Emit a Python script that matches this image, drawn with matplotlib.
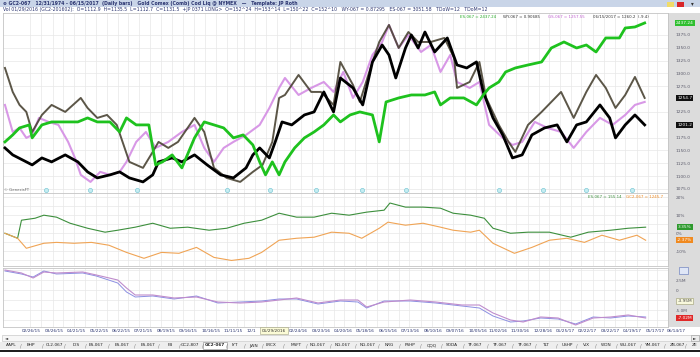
import matplotlib
matplotlib.use("Agg")
import matplotlib.pyplot as plt
from matplotlib.patches import Rectangle
from matplotlib.lines import Line2D

W, H = 700, 357

# ---- main panel: price scale, x = bar number ----
bars_x = [0, 8, 15, 22, 28, 38, 48, 62, 78, 85, 95, 105, 115, 128, 142, 152, 158, 168, 178, 195,
          205, 215, 228, 242, 255, 265, 275, 282, 288, 302, 315, 325, 338, 345, 358, 365, 378, 385, 395, 405,
          415, 425, 438, 452, 462, 465, 478, 488, 495, 508, 518, 525, 538, 552, 572, 585, 598, 608, 618, 628,
          638, 648, 658]
bars_close = [1310.5, 1263.8, 1238.5, 1224.9, 1185.9, 1219.0, 1238.5, 1224.9, 1252.1, 1232.6,
              1213.2, 1219.0, 1199.6, 1127.6, 1115.9, 1147.0, 1166.5, 1154.8, 1166.5, 1213.2,
              1185.9, 1115.9, 1096.4, 1088.6, 1108.1, 1121.7, 1166.5, 1252.1, 1257.9, 1296.9,
              1263.8, 1263.8, 1238.5, 1322.2, 1277.4, 1244.3, 1322.2, 1361.1, 1394.2, 1349.4,
              1380.5, 1361.1, 1361.1, 1368.9, 1329.9, 1271.6, 1283.2, 1322.2, 1252.1, 1199.6,
              1166.5, 1147.0, 1199.6, 1224.9, 1263.8, 1213.2, 1263.8, 1296.9, 1271.6, 1232.6,
              1257.9, 1293.0, 1252.1]

black_x = [0, 8, 22, 28, 38, 48, 62, 75, 85, 95, 108, 118, 128, 142, 152, 158, 172, 182, 195, 208,
           222, 235, 248, 255, 262, 272, 278, 285, 295, 308, 318, 328, 338, 345, 358, 368, 378, 388, 395, 402,
           412, 418, 425, 432, 442, 455, 465, 475, 485, 492, 502, 512, 522, 532, 542, 555, 568, 578, 588, 598,
           612, 622, 628, 638, 648, 658]
black_val = [1154.8, 1141.2, 1127.6, 1121.7, 1135.3, 1127.6, 1141.2, 1127.6, 1108.1, 1096.4,
             1102.3, 1108.1, 1096.4, 1088.6, 1102.3, 1127.6, 1135.3, 1127.6, 1141.2, 1121.7,
             1102.3, 1096.4, 1115.9, 1141.2, 1154.8, 1135.3, 1166.5, 1205.4, 1199.6, 1219.0,
             1224.9, 1263.8, 1224.9, 1291.0, 1271.6, 1238.5, 1322.2, 1355.2, 1335.8, 1291.0,
             1349.4, 1374.7, 1349.4, 1380.5, 1341.6, 1368.9, 1316.3, 1310.5, 1322.2, 1263.8,
             1213.2, 1180.1, 1135.3, 1141.2, 1180.1, 1193.7, 1199.6, 1166.5, 1199.6, 1205.4,
             1238.5, 1213.2, 1174.3, 1199.6, 1219.0, 1199.6]

pink_x = [0, 8, 15, 22, 28, 35, 45, 55, 65, 72, 78, 88, 98, 108, 118, 125, 135, 145, 155, 168,
          182, 195, 205, 215, 225, 235, 248, 262, 272, 282, 288, 302, 315, 328, 338, 348, 358, 368, 378, 388,
          395, 405, 415, 428, 438, 448, 458, 465, 478, 488, 498, 512, 522, 532, 545, 558, 572, 585, 598, 612,
          625, 638, 648, 658]
pink_val = [1238.5, 1185.9, 1193.7, 1174.3, 1180.1, 1213.2, 1205.4, 1199.6, 1166.5, 1135.3,
            1102.3, 1088.6, 1108.1, 1102.3, 1108.1, 1127.6, 1166.5, 1185.9, 1154.8, 1166.5,
            1185.9, 1199.6, 1154.8, 1127.6, 1154.8, 1166.5, 1180.1, 1199.6, 1232.6, 1271.6,
            1291.0, 1257.9, 1271.6, 1283.2, 1263.8, 1302.7, 1252.1, 1283.2, 1335.8, 1361.1,
            1394.2, 1349.4, 1374.7, 1341.6, 1355.2, 1302.7, 1335.8, 1283.2, 1271.6, 1283.2,
            1199.6, 1174.3, 1160.6, 1166.5, 1205.4, 1193.7, 1185.9, 1154.8, 1185.9, 1213.2,
            1199.6, 1219.0, 1238.5, 1244.3]

green_x = [0, 8, 15, 25, 28, 38, 48, 62, 75, 85, 95, 108, 118, 125, 135, 148, 155, 162, 172, 182,
           195, 205, 215, 225, 235, 245, 255, 262, 268, 275, 282, 288, 298, 308, 318, 328, 338, 345, 355, 365,
           378, 385, 392, 405, 418, 432, 442, 448, 458, 472, 485, 492, 498, 508, 515, 525, 538, 552, 562, 575,
           588, 598, 608, 618, 632, 638, 648, 658]
green_val = [1166.5, 1180.1, 1193.7, 1199.6, 1174.3, 1199.6, 1205.4, 1205.4, 1205.4, 1213.2,
             1205.4, 1205.4, 1185.9, 1213.2, 1199.6, 1199.6, 1121.7, 1127.6, 1141.2, 1115.9,
             1174.3, 1205.4, 1199.6, 1193.7, 1174.3, 1180.1, 1160.6, 1127.6, 1102.3, 1127.6,
             1102.3, 1127.6, 1154.8, 1174.3, 1185.9, 1199.6, 1219.0, 1205.4, 1219.0, 1224.9,
             1219.0, 1166.5, 1244.3, 1252.1, 1257.9, 1257.9, 1263.8, 1238.5, 1252.1, 1252.1,
             1238.5, 1257.9, 1271.6, 1283.2, 1302.7, 1310.5, 1316.3, 1322.2, 1349.4, 1361.1,
             1349.4, 1355.2, 1341.6, 1368.9, 1368.9, 1388.3, 1390.3, 1398.1]

event_x = [42, 87, 136, 228, 273, 320, 367, 412, 508, 553, 598, 645]
price_ticks = [1075, 1100, 1125, 1150, 1175, 1225, 1275, 1300, 1325, 1350, 1375]

# ---- relative performance panel (%) ----
rs_green_x = [0, 13, 17, 31, 40, 53, 67, 85, 103, 116, 134, 152, 170, 188, 210, 228, 246, 264, 282, 300,
              318, 336, 354, 372, 390, 396, 412, 430, 448, 461, 479, 493, 502, 520, 538, 560, 582, 600, 623, 641,
              659]
rs_green = [0, -2.8, 7.3, 8.4, 10.1, 9.0, 5.6, 2.8, 0.6, 1.7, 3.4, 5.6, 2.8, 3.4, 1.7, 2.8, 5.6, 7.3,
            11.2, 9.0, 9.0, 11.2, 10.1, 11.8, 12.9, 16.9, 14.6, 14.6, 14.0, 11.2, 10.1, 8.4, 2.8, 0,
            0.6, 0.6, -2.2, 0.6, 1.7, 2.8, 3.4]
rs_orange_x = [0, 13, 22, 40, 53, 71, 89, 107, 125, 143, 161, 179, 197, 215, 233, 251, 264, 282, 300, 318,
               336, 354, 367, 385, 394, 412, 430, 448, 461, 479, 488, 502, 524, 542, 560, 578, 596, 614, 632, 650,
               659]
rs_orange = [0, -2.8, -8.4, -5.6, -5.1, -5.6, -5.1, -6.7, -10.7, -14.0, -10.7, -11.2, -7.9, -13.5,
             -15.2, -14.0, -10.7, -3.9, -2.8, -2.2, 0.6, 0, -2.8, 2.8, 6.2, 4.5, 5.6, 3.4, 1.7, 0.6,
             1.7, -5.6, -11.2, -7.9, -3.9, -2.8, -5.1, -1.1, -3.9, -1.1, -3.9]

# ---- lower panel (millions) ----
osc_x = [0, 17, 29, 40, 53, 80, 94, 116, 125, 134, 152, 174, 197, 219, 242, 264, 282, 300, 322, 345,
         363, 372, 390, 417, 443, 470, 488, 502, 520, 533, 551, 569, 587, 605, 623, 641, 659]
osc_purple = [5.0, 4.25, 3.0, 4.5, 4.25, 4.5, 3.75, 2.5, 0.5, -1.25, -1.25, -2.0, -1.75, -3.0, -3.25,
              -3.0, -2.5, -2.0, -3.25, -2.5, -2.5, -4.25, -3.0, -2.5, -3.0, -3.75, -3.75, -5.75, -7.5,
              -8.0, -6.75, -7.0, -8.75, -7.0, -6.75, -6.25, -7.0]
osc_blue = [4.75, 4.0, 3.25, 4.75, 4.0, 4.25, 3.5, 1.75, -0.5, -1.75, -1.5, -2.25, -1.5, -3.25, -3.0,
            -2.75, -2.25, -2.25, -3.5, -2.75, -3.0, -4.5, -2.75, -2.75, -3.25, -4.0, -4.5, -6.5, -8.0,
            -7.75, -7.0, -7.25, -8.5, -6.75, -7.0, -6.5, -6.75]

# ---- date row and symbol tabs ----
date_pos = [26, 49, 71, 94, 116, 138, 161, 183, 206, 228, 246, 269, 293, 316, 338, 360, 383, 405, 428, 450,
            473, 493, 515, 538, 560, 582, 605, 627, 650, 671]
date_labels = ["02/26/15", "03/26/15", "04/21/15", "05/22/15", "06/22/15", "07/21/15", "08/19/15",
               "09/16/15", "10/16/15", "11/11/15", "12/1", "01/29/2016", "02/24/16", "03/23/16",
               "04/20/16", "05/18/16", "06/15/16", "07/13/16", "08/10/16", "09/07/16", "10/05/16",
               "11/02/16", "11/30/16", "12/28/16", "01/25/17", "02/22/17", "03/22/17", "04/19/17",
               "05/17/17", "06/14/17"]
tab_labels = ["AAPL", "BHP", "CL2-067", "DIS", "ES-067", "ES-067", "ES-067", "FB", "GC2-807", "GC2-067",
              "IYT", "JWN", "LRCX", "MSFT", "NG-067", "NG-067", "NG-067", "NRG", "PSHP", "QQQ", "SODA",
              "TF-067", "TF-067", "TF-067", "TLT", "USHP", "VIX", "WDN", "WU-067", "YM-067", "ZB-067", "ZE"]
tab_centers = [11, 31, 54, 76, 96, 122, 148, 170, 190, 215, 235, 254, 271, 296, 318, 343, 368, 389, 410,
               432, 452, 475, 500, 525, 546, 567, 586, 606, 628, 653, 677, 695]
ACTIVE_TAB = 9

NAVY = "#2a3470"
FS = 3.1


def fx(px):
    return px / W


def fy(py):
    return 1 - py / H


def px_box(x0, y0, x1, y1):
    return [x0 / W, 1 - y1 / H, (x1 - x0) / W, (y1 - y0) / H]


def style_panel(ax, yticks, ylabels, ylim, yminor=None):
    ax.set_xlim(-2, 663)
    ax.set_ylim(*ylim)
    ax.yaxis.tick_right()
    ax.set_yticks(yticks)
    ax.set_yticklabels(ylabels)
    if yminor is not None:
        ax.set_yticks(yminor, minor=True)
    ax.set_xticks(date_pos)
    ax.set_xticks([p + 11 for p in date_pos], minor=True)
    ax.set_xticklabels([])
    ax.tick_params(axis="both", which="both", length=0)
    ax.tick_params(axis="y", pad=5.5, labelsize=FS, colors="#5a5a6a")
    ax.grid(True, which="both", color="#e8e8e8", lw=0.5)
    ax.set_axisbelow(True)
    for s in ax.spines.values():
        s.set_color("#c4c4c4")
        s.set_linewidth(0.6)


def value_box(ax, y, text, fc, tc="white", ec="none"):
    ax.text(1.025, y, text, transform=ax.get_yaxis_transform(), ha="center", va="center",
            fontsize=FS, color=tc, clip_on=False, zorder=20,
            bbox=dict(boxstyle="square,pad=0.25", fc=fc, ec=ec, lw=0.4))


fig = plt.figure(figsize=(W / 100, H / 100), dpi=100)
fig.patch.set_facecolor("white")

# right label column and title bar
fig.patches.append(Rectangle((fx(668), fy(327)), fx(32), 314 / H, transform=fig.transFigure,
                             fc="#dcdcdc", ec="none", zorder=-5))
fig.patches.append(Rectangle((0, fy(7)), 1, 7 / H, transform=fig.transFigure,
                             fc="#c9d5e8", ec="none", zorder=-5))
fig.patches.append(Rectangle((fx(667), fy(6.5)), fx(7), 5 / H, transform=fig.transFigure,
                             fc="#f0dc6a", ec="none"))
fig.patches.append(Rectangle((fx(677), fy(6.5)), fx(7), 5 / H, transform=fig.transFigure,
                             fc="#d8262a", ec="none"))
fig.text(fx(692), fy(3.8), "▾", fontsize=4, color="#333333", ha="center", va="center")
fig.text(fx(3), fy(3.6),
         "⊕ GC2-067   12/31/1974 - 06/15/2017  (Daily bars)   Gold Comex (Comb) Cod Liq @ NYMEX   \u2014   "
         "Template: JP Roth", fontsize=3.3, color=NAVY, va="center", fontweight="bold")
fig.text(fx(3), fy(10),
         "Vol 01/29/2016 (GC2-201602):  O=1112.9  H=1135.5  L=1112.7  C=1131.5  +JP 0371 LONG>  "
         "O=152^24  H=153^14  L=150^22  C=152^10   WY-067 = 0.87295   ES-067 = 3051.58   TDoW=12   TDoM=12",
         fontsize=3.3, color=NAVY, va="center")

# ---- main panel ----
ax = fig.add_axes(px_box(3, 13, 668, 193))
style_panel(ax, price_ticks, [f"{t:.1f}" for t in price_ticks], (1067, 1417.5))
ax.plot(pink_x, pink_val, color="#d48de4", lw=1.5, alpha=0.9, zorder=3)
ax.plot(bars_x, bars_close, color="#4a4434", lw=1.4, alpha=0.9, zorder=4)
ax.plot(black_x, black_val, color="black", lw=2.0, zorder=5)
ax.plot(green_x, green_val, color="#1ec21e", lw=2.0, zorder=6)
ax.scatter(event_x, [1073] * len(event_x), s=9, marker="o", fc="#c6edf2", ec="#7fcad6", lw=0.5, zorder=7,
           clip_on=False)
value_box(ax, green_val[-1], "2437.24", "#2fbf2f")
value_box(ax, bars_close[-1], "1254.7", "#111111")
value_box(ax, black_val[-1], "1201.2", "#111111")
fig.text(fx(460), fy(17), "ES-067 = 2437.24", fontsize=2.9, color="#22aa22", va="center")
fig.text(fx(503), fy(17), "WY-067 = 0.90685", fontsize=2.9, color="#333333", va="center")
fig.text(fx(548), fy(17), "GS-067 = 1257.55", fontsize=2.9, color="#c060d0", va="center")
fig.text(fx(593), fy(17), "06/15/2017 = 1260.2  (-9.4)", fontsize=2.9, color="#333333", va="center")
fig.text(fx(4), fy(190), "© GenesisFT", fontsize=2.8, color="#666666", va="center")

# ---- relative performance panel ----
ax2 = fig.add_axes(px_box(3, 193, 668, 266))
style_panel(ax2, [20, 10, 0, -10], ["20%", "10%", "0%", "-10%"], (-18.3, 22.5),
            yminor=[15, 5, -5, -15])
ax2.plot(rs_green_x, rs_green, color="#3d8f3d", lw=0.8)
ax2.plot(rs_orange_x, rs_orange, color="#f0a455", lw=0.8)
value_box(ax2, rs_green[-1], "3.35%", "#2e9a2e")
value_box(ax2, rs_orange[-1], "-2.37%", "#f08a20")
fig.text(fx(588), fy(197.5), "ES-067 = 155.14", fontsize=2.9, color="#3d8f3d", va="center")
fig.text(fx(626), fy(197.5), "GC2-067 = 1245.7", fontsize=2.9, color="#f08a20", va="center")

# ---- lower panel ----
ax3 = fig.add_axes(px_box(3, 268, 668, 327))
style_panel(ax3, [2.5, 0, -5], ["2.5M", "0", "-5.0M"], (-9.25, 5.5), yminor=[5, -2.5, -7.5])
ax3.plot(osc_x, osc_blue, color="#8c8fe2", lw=0.7)
ax3.plot(osc_x, osc_purple, color="#bf8ccc", lw=0.8)
value_box(ax3, -2.75, "-3.95M", "#f8f8dc", tc="#444444", ec="#9a9a70")
value_box(ax3, osc_purple[-1], "-7.02M", "#e02828")
fig.patches.append(Rectangle((fx(679), fy(274)), fx(9), 7 / H, transform=fig.transFigure,
                             fc="#dfe6f6", ec="#5a70b8", lw=0.4))

# ---- date row ----
axd = fig.add_axes(px_box(3, 327, 700, 334))
axd.set_xlim(-2, 695)
axd.set_ylim(0, 1)
axd.axis("off")
for pos, lab in zip(date_pos, date_labels):
    if lab == "01/29/2016":
        axd.text(pos, 0.5, lab, fontsize=FS, color="#333333", ha="center", va="center", zorder=5,
                 bbox=dict(boxstyle="square,pad=0.4", fc="#fbfbd6", ec="#a0a080", lw=0.4))
    else:
        axd.text(pos, 0.5, lab, fontsize=FS, color=NAVY, ha="center", va="center")

# ---- scrollbar, tabs, bottom rule ----
fig.patches.append(Rectangle((fx(2), fy(341)), fx(697), 6 / H, transform=fig.transFigure,
                             fc="#f7f7f7", ec="#bdbdbd", lw=0.4))
fig.text(fx(5), fy(338), "◄", fontsize=3, color="#333333", va="center")
fig.patches.append(Rectangle((fx(691), fy(341)), fx(8), 6 / H, transform=fig.transFigure,
                             fc="#ececec", ec="#9a9a9a", lw=0.4))
fig.text(fx(695), fy(338), "►", fontsize=3, color="#333333", ha="center", va="center")
fig.patches.append(Rectangle((0, fy(349)), 1, 7 / H, transform=fig.transFigure,
                             fc="#eeeeee", ec="none", zorder=-5))
for i, (lab, cx) in enumerate(zip(tab_labels, tab_centers)):
    if i == ACTIVE_TAB:
        fig.patches.append(Rectangle((fx(cx - 12), fy(349)), fx(24), 7 / H, transform=fig.transFigure,
                                     fc="white", ec="#888888", lw=0.4, zorder=-4))
    fig.text(fx(cx), fy(345.5), lab, fontsize=FS, color="#222222", ha="center", va="center",
             fontweight="bold" if i == ACTIVE_TAB else "normal")
    if i < len(tab_labels) - 1:
        fig.text(fx((cx + tab_centers[i + 1]) / 2 + (1.5 if i == ACTIVE_TAB else 0)), fy(345.5), "/",
                 fontsize=FS + 0.4, color="#777777", ha="center", va="center")
fig.lines.append(Line2D([0, 1], [fy(350.5), fy(350.5)], transform=fig.transFigure,
                        color="#1a1a1a", lw=1.4))

fig.savefig("out.png", dpi=100)
